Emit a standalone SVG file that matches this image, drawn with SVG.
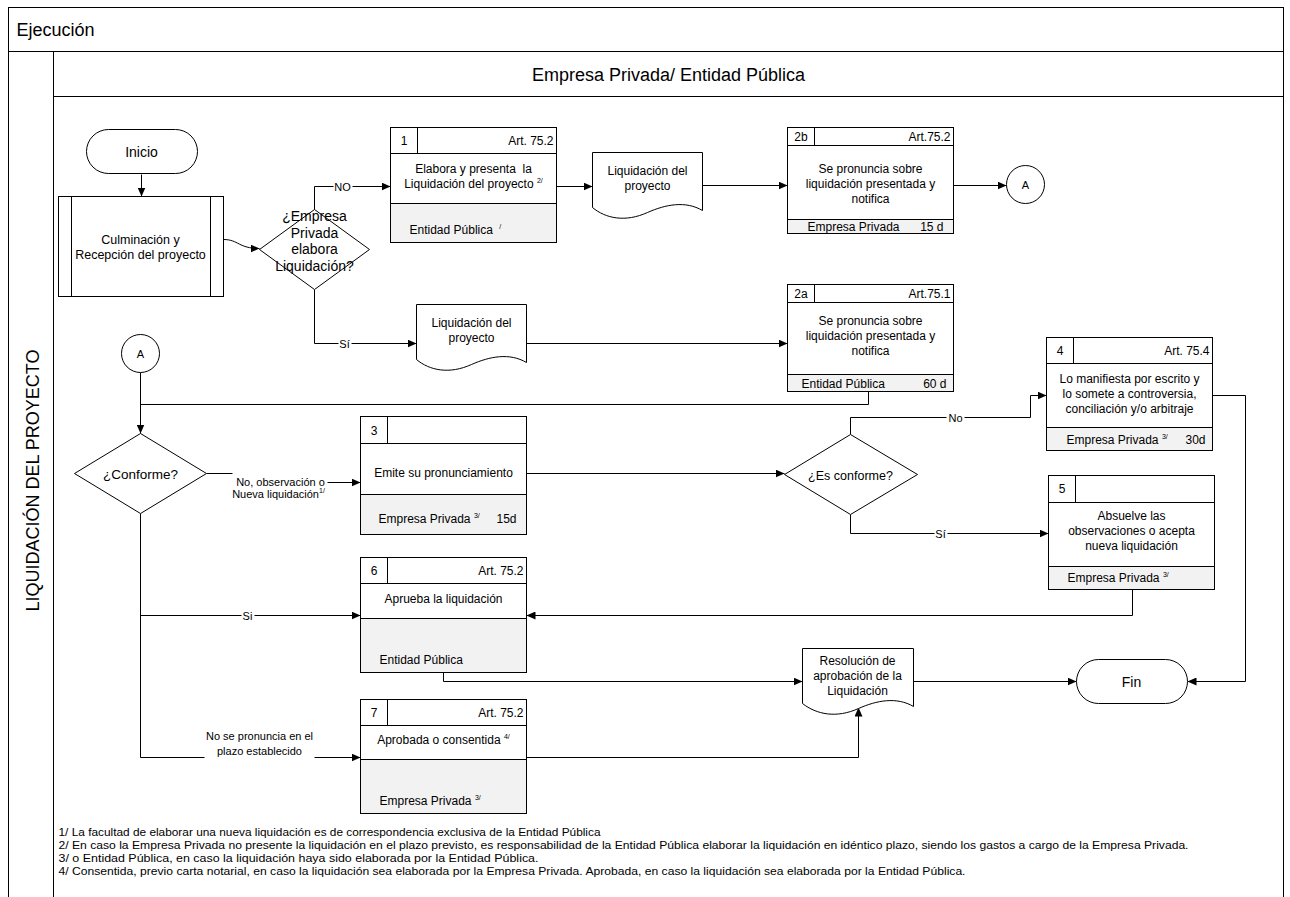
<svg xmlns="http://www.w3.org/2000/svg" width="1290" height="897" viewBox="0 0 1290 897">
<defs>
<marker id="ah" markerWidth="9" markerHeight="8" refX="9" refY="4" orient="auto" markerUnits="userSpaceOnUse"><path d="M0,0 L9,4 L0,8 Z" fill="#000"/></marker>
<style>
.s{fill:#fff;stroke:#000;stroke-width:1}
.g{fill:#f2f2f2;stroke:#000;stroke-width:1}
.ln{fill:none;stroke:#000;stroke-width:1}
.a{marker-end:url(#ah)}
.wb{fill:#fff;stroke:none}
text{font-family:"Liberation Sans",Arial,sans-serif;fill:#000}
.t12{font-size:12px}
.t14{font-size:14px}
.m{text-anchor:middle}
.e{text-anchor:end}
.sup{font-size:7px}
.lbl{font-size:11px}
.fn{font-size:10.5px}
.ti{font-size:18px}
</style>
</defs>
<rect x="0" y="0" width="1290" height="897" fill="#fff"/>
<g transform="translate(0.5,0.5)">
<g id="frame">
<rect class="ln" x="8" y="7" width="1275" height="895"/>
<path class="ln" d="M8,51 H1283 M53,51 V897 M53,96 H1283"/>
<text class="ti" x="16" y="35">Ejecución</text>
<text class="ti m" x="668" y="80">Empresa Privada/ Entidad Pública</text>
<text class="ti m" transform="translate(38,480) rotate(-90)">LIQUIDACIÓN DEL PROYECTO</text>
</g>

<g id="connectors">
<path class="ln a" d="M141,174 V196"/>
<path class="ln a" d="M223,239 C238,239 238,248 259,248"/>
<path class="ln a" d="M314,209 V186 H390"/>
<path class="ln a" d="M556,186 H592"/>
<path class="ln a" d="M702,185 H787"/>
<path class="ln a" d="M953,185 H1006"/>
<path class="ln a" d="M314,289 V343 H416"/>
<path class="ln a" d="M526,343 H787"/>
<path class="ln" d="M868,391 V404 H140"/>
<path class="ln a" d="M140,372 V433"/>
<path class="ln" d="M206,473 H232"/>
<path class="ln a" d="M327,482 H360"/>
<path class="ln a" d="M526,473 H784"/>
<path class="ln a" d="M850,434 V417 H1030 V395 H1046"/>
<path class="ln a" d="M850,514 V533 H1048"/>
<path class="ln a" d="M1212,395 H1245 V681 H1187"/>
<path class="ln a" d="M1132,589 V615 H526"/>
<path class="ln a" d="M140,513 V757 H360"/>
<path class="ln a" d="M140,615 H360"/>
<path class="ln a" d="M443,672 V681 H802"/>
<path class="ln a" d="M526,757 H858 V707"/>
<path class="ln a" d="M913,681 H1076"/>
<rect class="wb" x="333" y="180" width="19" height="12"/>
<text class="lbl m" x="342" y="190">NO</text>
<rect class="wb" x="338" y="337" width="13" height="12"/>
<text class="lbl m" x="344" y="347">Sí</text>
<rect class="wb" x="946" y="411" width="18" height="12"/>
<text class="lbl m" x="955" y="421">No</text>
<rect class="wb" x="934" y="527" width="13" height="12"/>
<text class="lbl m" x="940" y="537">Sí</text>
<rect class="wb" x="241" y="609" width="13" height="12"/>
<text class="lbl m" x="247" y="619">Si</text>
<text class="lbl m" x="280" y="485">No, observación o</text>
<text class="lbl m" x="278" y="497">Nueva liquidación<tspan class="sup" dy="-5">1/</tspan></text>
<rect class="wb" x="204" y="727" width="110" height="32"/>
<text class="lbl m" x="259" y="739">No se pronuncia en el</text>
<text class="lbl m" x="259" y="754">plazo establecido</text>
</g>

<g id="inicio">
<rect class="s" x="86" y="129" width="111" height="44" rx="22"/>
<text class="t14 m" x="141" y="156">Inicio</text>
</g>

<g id="culminacion">
<rect class="s" x="58" y="196" width="165" height="100"/>
<path class="ln" d="M71,196 V296 M210,196 V296"/>
<text class="m" font-size="12.5" x="140" y="243">Culminación y</text>
<text class="m" font-size="12.5" x="140" y="258">Recepción del proyecto</text>
</g>

<g id="d1">
<polygon class="s" points="259,249 314,209 369,249 314,289"/>
<text class="t14 m" x="314" y="220">¿Empresa</text>
<text class="t14 m" x="314" y="237">Privada</text>
<text class="t14 m" x="314" y="253">elabora</text>
<text class="t14 m" x="314" y="270">Liquidación?</text>
</g>

<g id="n1">
<rect class="s" x="390" y="127" width="166" height="115"/>
<rect class="g" x="390" y="203" width="166" height="39"/>
<path class="ln" d="M390,153 H556 M417,127 V153"/>
<text class="t12 m" x="403.5" y="144">1</text>
<text class="t12 e" x="553" y="144">Art. 75.2</text>
<text class="t12 m" x="473" y="172" xml:space="preserve">Elabora y presenta  la</text>
<text class="t12 m" x="473" y="187">Liquidación del proyecto <tspan class="sup" dy="-5">2/</tspan></text>
<text class="t12" x="409" y="233">Entidad Pública <tspan class="sup" dx="3" dy="-5">/</tspan></text>
</g>

<g id="doc1">
<path class="s" d="M592,152 H702 V210 C685,200 665,204 647,212 C625,222 605,218 592,207 Z"/>
<text class="t12 m" x="647" y="174">Liquidación del</text>
<text class="t12 m" x="647" y="189">proyecto</text>
</g>

<g id="n2b">
<rect class="s" x="787" y="127" width="166" height="106"/>
<rect class="g" x="787" y="219" width="166" height="14"/>
<path class="ln" d="M787,145 H953 M814,127 V145"/>
<text class="t12 m" x="800.5" y="140">2b</text>
<text class="t12 e" x="950" y="140">Art.75.2</text>
<text class="t12 m" x="870" y="172">Se pronuncia sobre</text>
<text class="t12 m" x="870" y="187">liquidación presentada y</text>
<text class="t12 m" x="870" y="202">notifica</text>
<text class="t12" x="807" y="230">Empresa Privada</text>
<text class="t12 e" x="943" y="230">15 d</text>
</g>

<g id="a1">
<circle class="s" cx="1025" cy="184" r="19"/>
<text class="lbl m" x="1025" y="188">A</text>
</g>

<g id="doc2">
<path class="s" d="M416,304 H526 V362 C509,352 489,356 471,364 C449,374 429,370 416,359 Z"/>
<text class="t12 m" x="471" y="326">Liquidación del</text>
<text class="t12 m" x="471" y="341">proyecto</text>
</g>

<g id="n2a">
<rect class="s" x="787" y="284" width="166" height="107"/>
<rect class="g" x="787" y="374" width="166" height="17"/>
<path class="ln" d="M787,302 H953 M814,284 V302"/>
<text class="t12 m" x="800.5" y="297">2a</text>
<text class="t12 e" x="950" y="297">Art.75.1</text>
<text class="t12 m" x="870" y="324">Se pronuncia sobre</text>
<text class="t12 m" x="870" y="339">liquidación presentada y</text>
<text class="t12 m" x="870" y="354">notifica</text>
<text class="t12" x="801" y="387">Entidad Pública</text>
<text class="t12 e" x="946" y="387">60 d</text>
</g>

<g id="a2">
<circle class="s" cx="140" cy="353" r="19"/>
<text class="lbl m" x="140" y="357">A</text>
</g>

<g id="conforme">
<polygon class="s" points="74,473 140,433 206,473 140,513"/>
<text class="m" font-size="13.5" x="140" y="478">¿Conforme?</text>
</g>

<g id="n3">
<rect class="s" x="360" y="416" width="166" height="118"/>
<rect class="g" x="360" y="494" width="166" height="40"/>
<path class="ln" d="M360,443 H526 M387,416 V443"/>
<text class="t12 m" x="373.5" y="434">3</text>
<text class="t12 m" x="443" y="476">Emite su pronunciamiento</text>
<text class="t12" x="378" y="522">Empresa Privada <tspan class="sup" dy="-5">3/</tspan></text>
<text class="t12 e" x="516" y="522">15d</text>
</g>

<g id="esconforme">
<polygon class="s" points="784,474 850,434 917,474 850,514"/>
<text class="m" font-size="12.5" x="850" y="479">¿Es conforme?</text>
</g>

<g id="n4">
<rect class="s" x="1046" y="337" width="166" height="113"/>
<rect class="g" x="1046" y="427" width="166" height="23"/>
<path class="ln" d="M1046,363 H1212 M1073,337 V363"/>
<text class="t12 m" x="1059.5" y="354">4</text>
<text class="t12 e" x="1209" y="354">Art. 75.4</text>
<text class="t12 m" x="1129" y="382">Lo manifiesta por escrito y</text>
<text class="t12 m" x="1129" y="397">lo somete a controversia,</text>
<text class="t12 m" x="1129" y="412">conciliación y/o arbitraje</text>
<text class="t12" x="1066" y="443">Empresa Privada <tspan class="sup" dy="-5">3/</tspan></text>
<text class="t12 e" x="1205" y="443">30d</text>
</g>

<g id="n5">
<rect class="s" x="1048" y="475" width="166" height="114"/>
<rect class="g" x="1048" y="566" width="166" height="23"/>
<path class="ln" d="M1048,502 H1214 M1075,475 V502"/>
<text class="t12 m" x="1061.5" y="492">5</text>
<text class="t12 m" x="1131" y="519">Absuelve las</text>
<text class="t12 m" x="1131" y="534">observaciones o acepta</text>
<text class="t12 m" x="1131" y="549">nueva liquidación</text>
<text class="t12" x="1067" y="581">Empresa Privada <tspan class="sup" dy="-5">3/</tspan></text>
</g>

<g id="n6">
<rect class="s" x="360" y="557" width="166" height="115"/>
<rect class="g" x="360" y="618" width="166" height="54"/>
<path class="ln" d="M360,583 H526 M387,557 V583"/>
<text class="t12 m" x="373.5" y="574">6</text>
<text class="t12 e" x="523" y="574">Art. 75.2</text>
<text class="t12 m" x="443" y="602">Aprueba la liquidación</text>
<text class="t12" x="379" y="663">Entidad Pública</text>
</g>

<g id="doc3">
<path class="s" d="M802,648 H913 V706 C896,696 876,700 858,708 C836,718 816,714 802,703 Z"/>
<text class="t12 m" x="857" y="664">Resolución de</text>
<text class="t12 m" x="857" y="679">aprobación de la</text>
<text class="t12 m" x="857" y="694">Liquidación</text>
</g>

<g id="fin">
<rect class="s" x="1076" y="659" width="111" height="44" rx="22"/>
<text class="t14 m" x="1131" y="686">Fin</text>
</g>

<g id="n7">
<rect class="s" x="360" y="699" width="166" height="114"/>
<rect class="g" x="360" y="759" width="166" height="54"/>
<path class="ln" d="M360,725 H526 M387,699 V725"/>
<text class="t12 m" x="373.5" y="716">7</text>
<text class="t12 e" x="523" y="716">Art. 75.2</text>
<text class="t12 m" x="443" y="743">Aprobada o consentida <tspan class="sup" dy="-5">4/</tspan></text>
<text class="t12" x="379" y="804">Empresa Privada <tspan class="sup" dy="-5">3/</tspan></text>
</g>

<g id="notes">
<text class="fn" x="58" y="835" textLength="542" lengthAdjust="spacingAndGlyphs">1/ La facultad de elaborar una nueva liquidación es de correspondencia exclusiva de la Entidad Pública</text>
<text class="fn" x="58" y="848" textLength="1130" lengthAdjust="spacingAndGlyphs">2/ En caso la Empresa Privada no presente la liquidación en el plazo previsto, es responsabilidad de la Entidad Pública elaborar la liquidación en idéntico plazo, siendo los gastos a cargo de la Empresa Privada.</text>
<text class="fn" x="58" y="861" textLength="480" lengthAdjust="spacingAndGlyphs">3/ o Entidad Pública, en caso la liquidación haya sido elaborada por la Entidad Pública.</text>
<text class="fn" x="58" y="874" textLength="907" lengthAdjust="spacingAndGlyphs">4/ Consentida, previo carta notarial, en caso la liquidación sea elaborada por la Empresa Privada. Aprobada, en caso la liquidación sea elaborada por la Entidad Pública.</text>
</g>
</g>
</svg>
